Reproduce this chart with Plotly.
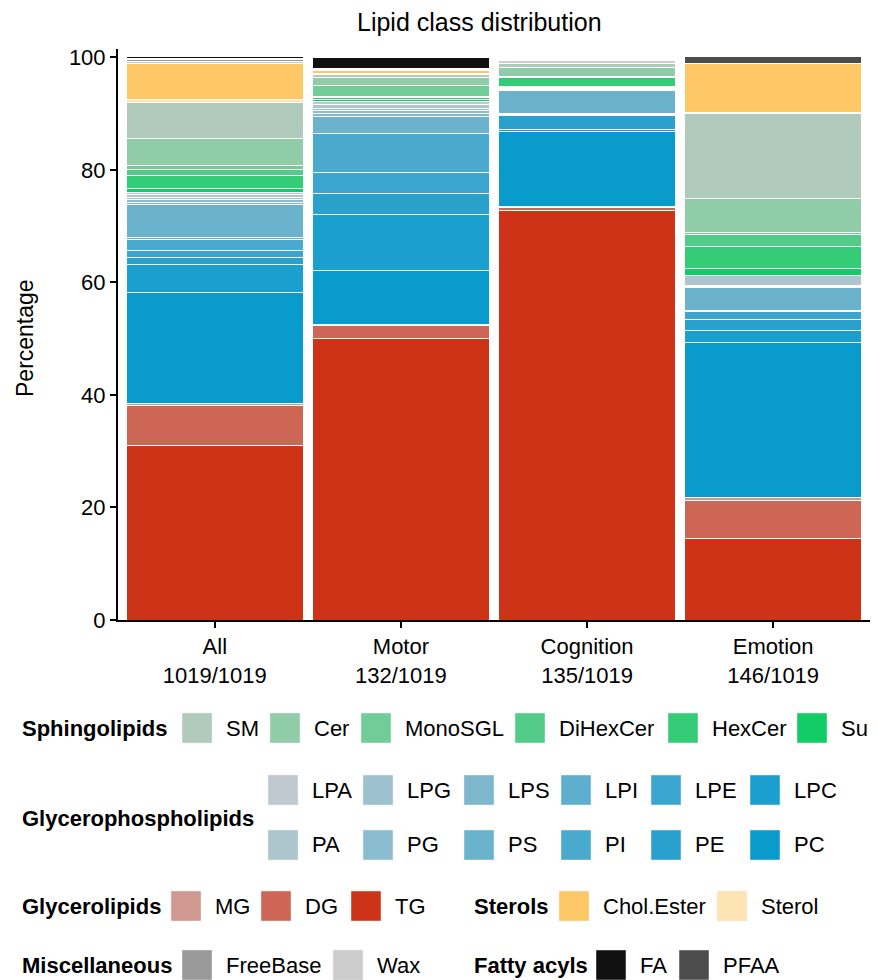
import plotly.graph_objects as go

# ---------------- data ----------------
groups = ["All", "Motor", "Cognition", "Emotion"]
group_counts = ["1019/1019", "132/1019", "135/1019", "146/1019"]

# stacking order bottom -> top
classes = ["TG", "DG", "MG",
           "PC", "LPC", "PE", "LPE", "PI", "LPI", "PS", "LPS", "PG", "LPG", "PA", "LPA",
           "Su", "HexCer", "DiHexCer", "MonoSGL", "Cer", "SM",
           "Sterol", "Chol.Ester",
           "Wax", "FreeBase",
           "PFAA", "FA"]

pct_all       = [31.1, 7.1, 0.3, 19.7, 5.0, 1.3, 1.1, 2.0, 0.4, 5.8, 0.5, 0.4, 0.35, 0.5, 0.5,
                 0.6, 2.3, 1.1, 0.8, 4.8, 6.3, 0.6, 6.3, 0.4, 0.4, 0.25, 0.3]
pct_motor     = [50.0, 2.3, 0.2, 9.7, 9.9, 3.7, 3.8, 6.8, 0.1, 3.0, 0.5, 0.5, 0.5, 0.6, 0.5,
                 0.5, 0.3, 0.2, 2.0, 1.3, 0.6, 0.1, 0.6, 0.2, 0.1, 0.0, 2.0]
pct_cognition = [72.8, 0.5, 0.2, 13.4, 0.3, 2.5, 0.1, 0.1, 0.1, 4.1, 0.2, 0.1, 0.1, 0.2, 0.1,
                 0.1, 1.5, 0.1, 0.1, 1.7, 0.6, 0.0, 0.0, 0.6, 0.0, 0.0, 0.0]
pct_emotion   = [14.5, 6.8, 0.5, 27.5, 2.1, 2.1, 1.4, 0.1, 0.1, 4.0, 0.1, 0.1, 0.1, 1.8, 0.1,
                 1.2, 3.9, 2.2, 0.2, 6.1, 15.2, 0.1, 8.8, 0.0, 0.0, 1.2, 0.0]

class_colors = {
    "SM": "#b0cbbb", "Cer": "#90cca8", "MonoSGL": "#72cc98", "DiHexCer": "#52cc88",
    "HexCer": "#35cc78", "Su": "#12cc66",
    "LPA": "#bfc9cf", "LPG": "#9dc1cf", "LPS": "#7fb7cd", "LPI": "#5eaecd", "LPE": "#3aa6cf", "LPC": "#1a9fcf",
    "PA": "#adc5cd", "PG": "#8bbccf", "PS": "#6bb3cd", "PI": "#4aaacd", "PE": "#2aa1cd", "PC": "#0a9bcd",
    "MG": "#d09890", "DG": "#cd6655", "TG": "#cc3317",
    "Chol.Ester": "#ffc866", "Sterol": "#ffe4b3",
    "FreeBase": "#999999", "Wax": "#cccccc",
    "FA": "#111111", "PFAA": "#4d4d4d",
}

# legend groups
legend_sphingo = ["SM", "Cer", "MonoSGL", "DiHexCer", "HexCer", "Su"]
legend_gpl_top = ["LPA", "LPG", "LPS", "LPI", "LPE", "LPC"]
legend_gpl_bot = ["PA", "PG", "PS", "PI", "PE", "PC"]
legend_glyc = ["MG", "DG", "TG"]
legend_sterol = ["Chol.Ester", "Sterol"]
legend_misc = ["FreeBase", "Wax"]
legend_fatty = ["FA", "PFAA"]

# ---------------- figure ----------------
OFF = 8  # page body margin
W, H = 862, 972
L, R, T = 110, 0, 41
B = H - (620 - OFF)
PW, PH = W - L - R, H - T - B
FONT = "Liberation Sans, Arial, sans-serif"

xlabels = [f"{g}<br>{c}" for g, c in zip(groups, group_counts)]
series = [pct_all, pct_motor, pct_cognition, pct_emotion]

fig = go.Figure()
for i, cls in enumerate(classes):
    fig.add_trace(go.Bar(
        x=xlabels, y=[s[i] for s in series], name=cls,
        marker=dict(color=class_colors[cls], line=dict(color="white", width=1)),
        showlegend=False,
    ))

def px2x(px):
    return (px - OFF - L) / PW

def py2y(py):
    return (H - B - (py - OFF)) / PH

shapes = []
annotations = []

def add_label(text, x, y, bold=False, size=22):
    annotations.append(dict(
        x=px2x(x), y=py2y(y), xref="paper", yref="paper", xanchor="left", yanchor="middle",
        text=f"<b>{text}</b>" if bold else text, showarrow=False,
        font=dict(family=FONT, size=size, color="black")))

def add_item(name, x, y):
    s = 30
    shapes.append(dict(type="rect", xref="paper", yref="paper",
                       x0=px2x(x), x1=px2x(x + s), y0=py2y(y - s / 2), y1=py2y(y + s / 2),
                       fillcolor=class_colors[name], line=dict(color="#eeeeee", width=0.5)))
    add_label(name, x + s + 12, y)

# legend layout positions (page pixels)
row_y = [728, 790, 845, 906, 965]
add_label("Sphingolipids", 20, row_y[0], bold=True)
for n, x in zip(legend_sphingo, [182, 270, 361, 515, 668, 797]):
    add_item(n, x, row_y[0])
add_label("Glycerophospholipids", 20, 818, bold=True)
gx = [268, 363, 464, 561, 651, 750]
for n, x in zip(legend_gpl_top, gx):
    add_item(n, x, row_y[1])
for n, x in zip(legend_gpl_bot, gx):
    add_item(n, x, row_y[2])
add_label("Glycerolipids", 20, row_y[3], bold=True)
for n, x in zip(legend_glyc, [171, 261, 351]):
    add_item(n, x, row_y[3])
add_label("Sterols", 472, row_y[3], bold=True)
for n, x in zip(legend_sterol, [559, 717]):
    add_item(n, x, row_y[3])
add_label("Miscellaneous", 20, row_y[4], bold=True)
for n, x in zip(legend_misc, [182, 333]):
    add_item(n, x, row_y[4])
add_label("Fatty acyls", 472, row_y[4], bold=True)
for n, x in zip(legend_fatty, [596, 679]):
    add_item(n, x, row_y[4])

# y-axis title
annotations.append(dict(x=px2x(25), y=py2y(338), xref="paper", yref="paper",
                        xanchor="center", yanchor="middle", textangle=-90,
                        text="Percentage", showarrow=False,
                        font=dict(family=FONT, size=23, color="black")))

# chart title
annotations.append(dict(x=px2x(479), y=py2y(22), xref="paper", yref="paper",
                        xanchor="center", yanchor="middle",
                        text="Lipid class distribution", showarrow=False,
                        font=dict(family=FONT, size=25, color="black")))

fig.update_layout(
    width=W, height=H,
    margin=dict(l=L, r=R, t=T, b=B, autoexpand=False),
    barmode="stack", bargap=0.05,
    plot_bgcolor="white", paper_bgcolor="white",
    font=dict(family=FONT, size=22, color="black"),
    xaxis=dict(range=[-0.52, 3.52], showline=True, linecolor="black", linewidth=2,
               ticks="outside", ticklen=6, tickwidth=1.5, tickcolor="black",
               tickfont=dict(family=FONT, size=22, color="black"), showgrid=False),
    yaxis=dict(range=[0, 101.5], showline=True, linecolor="black", linewidth=2,
               ticks="outside", ticklen=6, tickwidth=1.5, tickcolor="black",
               tickvals=[0, 20, 40, 60, 80, 100], showgrid=False, zeroline=False,
               tickfont=dict(family=FONT, size=22, color="black")),
    shapes=shapes, annotations=annotations,
)

fig.write_html("out.html")
